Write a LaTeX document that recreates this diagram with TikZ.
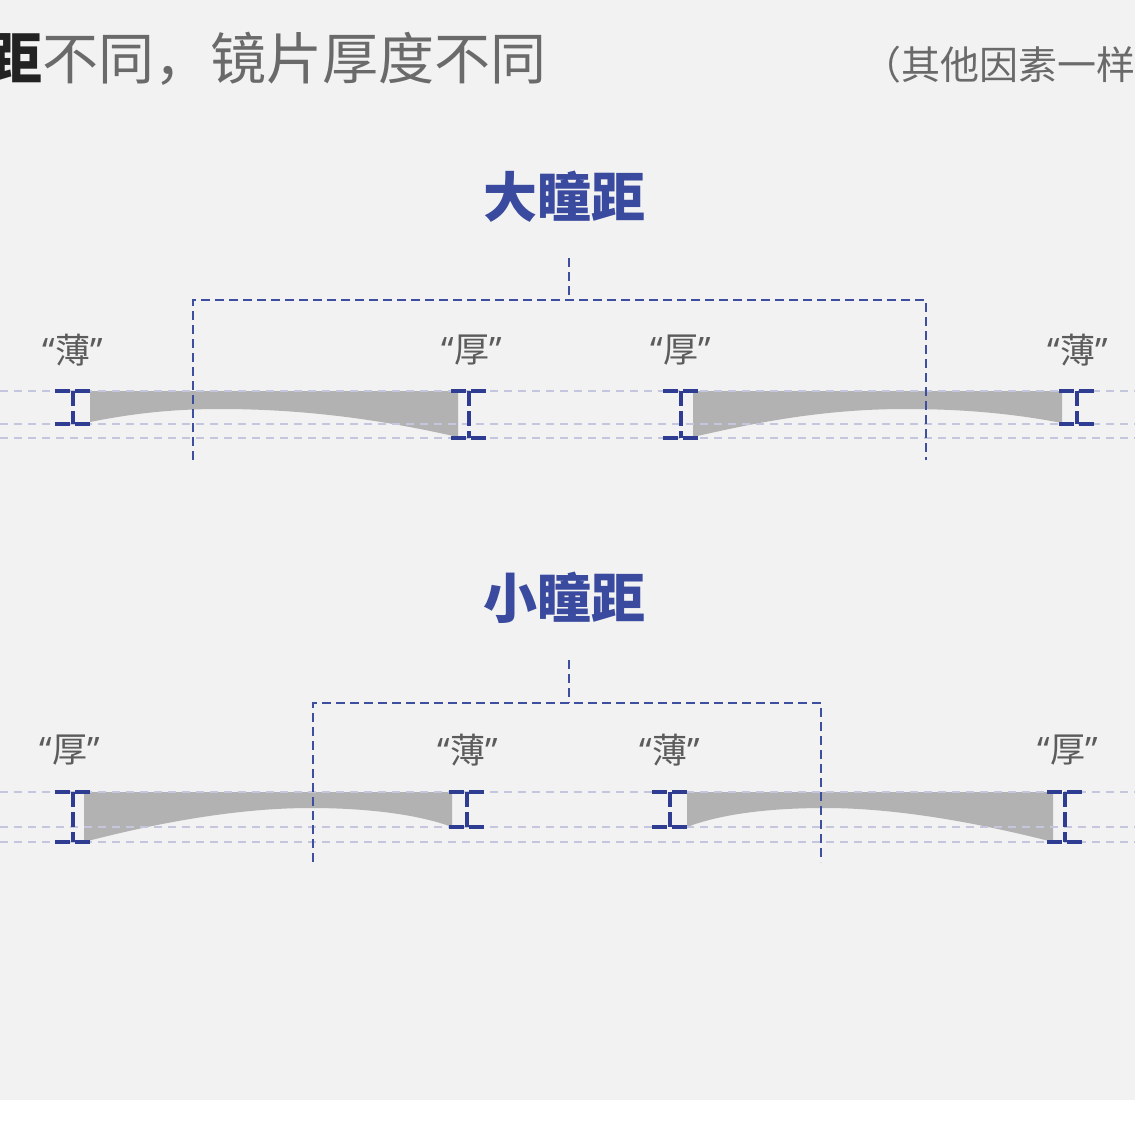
\documentclass[tikz,border=0pt]{standalone}
\usepackage{fontspec}
\newfontfamily\cjk{Noto Sans CJK SC}
\newfontfamily\latq{Noto Sans}
\definecolor{pblue}{HTML}{3F4FA0}
\definecolor{bblue}{HTML}{2E3D91}
\definecolor{tblue}{HTML}{3A4A9E}
\definecolor{guidec}{HTML}{C3C6DD}
\definecolor{lensg}{HTML}{B2B2B2}
\definecolor{lblc}{HTML}{5C5C5C}
\definecolor{hgray}{HTML}{6A6A6A}
\definecolor{hdark}{HTML}{222222}
\definecolor{bgc}{HTML}{F2F2F2}
\newcommand\ibm[3]{\draw[ibeam] ({#1-18},#2) -- ({#1+18},#2) (#1,#2) -- (#1,#3) ({#1-18},#3) -- ({#1+18},#3);}
\newcommand\qt[1]{{\latq\bfseries “}{\cjk #1}{\latq\bfseries ”}}
\begin{document}
\begin{tikzpicture}[x=1pt,y=-1pt,
 pupil/.style={draw=pblue, line width=2.8pt, dash pattern=on 9pt off 5pt},
 guide/.style={draw=guidec, line width=2.2pt, dash pattern=on 8pt off 6pt},
 ibeam/.style={draw=bblue, line width=3.4pt, dash pattern=on 15pt off 5pt},
 lens/.style={fill=lensg, draw=none},
 title/.style={font=\cjk\bfseries\fontsize{54}{60}\selectfont, text=tblue, inner sep=0pt},
 lbl/.style={font=\fontsize{35}{40}\selectfont, text=lblc, inner sep=0pt}]
\useasboundingbox (0,0) rectangle (1135,1135);
\clip (0,0) rectangle (1135,1135);
\fill[bgc] (0,0) rectangle (1135,1100);
\fill[white] (0,1100) rectangle (1135,1135);
% header
\node[anchor=west, inner sep=0pt, font=\cjk\fontsize{56}{60}\selectfont] (hdr) at (-14,59)
  {\textcolor{hdark}{\bfseries 距}\textcolor{hgray}{不同，镜片厚度不同}};
\node[anchor=west, inner sep=0pt, font=\cjk\fontsize{39}{44}\selectfont, text=hgray] (note) at (862,65) {（其他因素一样};
% titles
\node[title] (t1) at (564,197) {大瞳距};
\node[title] (t2) at (564,598) {小瞳距};
% lenses
\fill[lens] (90,391) -- (458,391) -- (458,437) .. controls (400,424) and (320,409) .. (220,409) .. controls (170,409) and (130,414) .. (90,422) -- cycle;
\fill[lens] (693,391) -- (1062,391) -- (1062,423) .. controls (1010,413) and (960,409) .. (905,409) .. controls (820,409) and (750,424) .. (693,437) -- cycle;
\fill[lens] (84,792) -- (452,792) -- (452,827) .. controls (420,815) and (370,808) .. (310,808) .. controls (240,808) and (160,822) .. (84,842) -- cycle;
\fill[lens] (687,792) -- (1053,792) -- (1053,842) .. controls (975,822) and (895,808) .. (825,808) .. controls (765,808) and (718,815) .. (687,827) -- cycle;
% guides
\foreach \yy in {391,424,438,792,827,842} {\draw[guide] (0,\yy) -- (1135,\yy);}
% pupil trees
\coordinate (a1) at (569,258); \coordinate (a2) at (569,300);
\coordinate (a3) at (193,300); \coordinate (a4) at (926,300);
\coordinate (a5) at (193,460); \coordinate (a6) at (926,460);
\draw[pupil] (a1) -- (a2);
\draw[pupil] (a5) -- (a3) -- (a4) -- (a6);
\coordinate (b1) at (569,660); \coordinate (b2) at (569,703);
\coordinate (b3) at (313,703); \coordinate (b4) at (821,703);
\coordinate (b5) at (313,862); \coordinate (b6) at (821,862);
\draw[pupil] (b1) -- (b2);
\draw[pupil] (b5) -- (b3) -- (b4) -- (b6);
% thickness markers
\ibm{73}{391}{424}
\ibm{469}{391}{438}
\ibm{681}{391}{438}
\ibm{1077}{391}{424}
\ibm{73}{792}{842}
\ibm{467}{792}{827}
\ibm{670}{792}{827}
\ibm{1065}{792}{842}
% labels
\node[lbl] (l1) at (73,350) {\qt{薄}};
\node[lbl] (l2) at (472,350) {\qt{厚}};
\node[lbl] (l3) at (681,350) {\qt{厚}};
\node[lbl] (l4) at (1078,350) {\qt{薄}};
\node[lbl] (l5) at (70,750) {\qt{厚}};
\node[lbl] (l6) at (468,750) {\qt{薄}};
\node[lbl] (l7) at (670,750) {\qt{薄}};
\node[lbl] (l8) at (1068,750) {\qt{厚}};
\end{tikzpicture}
\end{document}
